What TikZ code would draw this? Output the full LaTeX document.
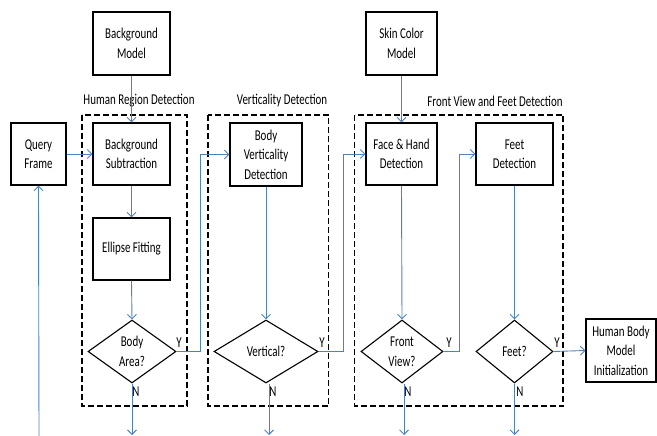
\documentclass[tikz,border=0pt]{standalone}
\usepackage{fontspec}
\setmainfont[FakeStretch=0.73]{Carlito}
\usetikzlibrary{shapes.geometric,arrows.meta}
\definecolor{flowblue}{RGB}{79,129,189}
\tikzset{
  procbox/.style={draw=black, line width=1.1pt, inner sep=0pt, align=center, font=\fontsize{15}{19.5}\selectfont},
  decbox/.style={draw=black, line width=1.1pt, shape=diamond, inner sep=0pt, align=center, font=\fontsize{15}{19.5}\selectfont},
  grpbox/.style={draw=black, line width=1.1pt, dash pattern=on 6pt off 3pt},
  grplabel/.style={font=\fontsize{15}{19.5}\selectfont, inner sep=0pt},
  yn/.style={font=\fontsize{15}{19.5}\selectfont, inner sep=0pt},
  flow/.style={draw=flowblue, line width=0.9pt, -{Straight Barb[length=4.5pt,width=9pt]}},
  flowline/.style={draw=flowblue, line width=0.9pt}
}
\begin{document}
\begin{tikzpicture}[x=1pt,y=-1pt]
\useasboundingbox (0,0) rectangle (657,436);

% group boxes
\draw[grpbox] (82,115) rectangle (187,406);
\draw[grpbox] (208,115) rectangle (328.5,406);
\draw[grpbox] (354.5,115) rectangle (563,406);
\node[grplabel] (lhr) at (139,101) {Human Region Detection};
\node[grplabel] (lvd) at (282,101) {Verticality Detection};
\node[grplabel] (lfv) at (495,101) {Front View and Feet Detection};

% boxes
\node[procbox, minimum width=77pt, minimum height=63pt] (bgm) at (131.5,43.5) {Background\\Model};
\node[procbox, minimum width=55pt, minimum height=62pt] (qf) at (38.5,154) {Query\\Frame};
\node[procbox, minimum width=77pt, minimum height=62pt] (bgs) at (131.5,154) {Background\\Subtraction};
\node[procbox, minimum width=77pt, minimum height=62pt] (ell) at (131.5,249) {Ellipse Fitting};
\node[decbox, minimum width=88pt, minimum height=63pt] (bva) at (132,351.5) {Body\\Area?};

\node[procbox, minimum width=72pt, minimum height=63pt] (bvd) at (266,154.5) {Body\\Verticality\\Detection};
\node[decbox, minimum width=104pt, minimum height=63pt] (vert) at (266,351.5) {Vertical?};

\node[procbox, minimum width=71pt, minimum height=63pt] (scm) at (401.5,43.5) {Skin Color\\Model};
\node[procbox, minimum width=71pt, minimum height=62pt] (fhd) at (401.5,154) {Face \& Hand\\Detection};
\node[procbox, minimum width=77pt, minimum height=62pt] (fd) at (514.5,154) {Feet\\Detection};
\node[decbox, minimum width=82pt, minimum height=63pt] (fv) at (402,351.5) {Front\\View?};
\node[decbox, minimum width=77pt, minimum height=63pt] (feet) at (514.5,351.5) {Feet?};

\node[procbox, minimum width=70pt, minimum height=63pt] (hbm) at (621,350.5) {Human Body\\Model\\Initialization};

% free ends
\coordinate (qin) at (39,436);
\coordinate (bvaout) at (132,435);
\coordinate (vertout) at (269,435);
\coordinate (fvout) at (404,435);
\coordinate (feetout) at (514.5,435);
\coordinate (bvaturn) at (200,351.5);
\coordinate (vertturn) at (343,351.5);
\coordinate (fvturn) at (459,351.5);

% connectors
\draw[flow] (qin) -- (qf.south);
\draw[flow] (qf.east) -- (bgs.west);
\draw[flow] (bgm.south) -- (bgs.north);
\draw[flow] (bgs.south) -- (ell.north);
\draw[flow] (ell.south) -- (bva.north);
\draw[flow] (bva.east) -- (bvaturn) |- (bvd.west);
\draw[flow] (bva.south) -- (bvaout);

\draw[flow] (bvd.south) -- (vert.north);
\draw[flow] (vert.east) -- (vertturn) |- (fhd.west);
\draw[flow] (vert.south -| vertout) -- (vertout);

\draw[flow] (scm.south) -- (fhd.north);
\draw[flow] (fhd.south) -- (fv.north);
\draw[flow] (fv.east) -- (fvturn) |- (fd.west);
\draw[flow] (fv.south -| fvout) -- (fvout);

\draw[flow] (fd.south) -- (feet.north);
\draw[flow] (feet.east) -- (hbm.west);
\draw[flow] (feet.south) -- (feetout);

% Y / N labels
\node[yn] (y1) at (179,343) {Y};
\node[yn] (n1) at (136,392) {N};
\node[yn] (y2) at (322,343) {Y};
\node[yn] (n2) at (273,392) {N};
\node[yn] (y3) at (449,343) {Y};
\node[yn] (n3) at (408,392) {N};
\node[yn] (y4) at (557,343) {Y};
\node[yn] (n4) at (520,392) {N};
\end{tikzpicture}
\end{document}
